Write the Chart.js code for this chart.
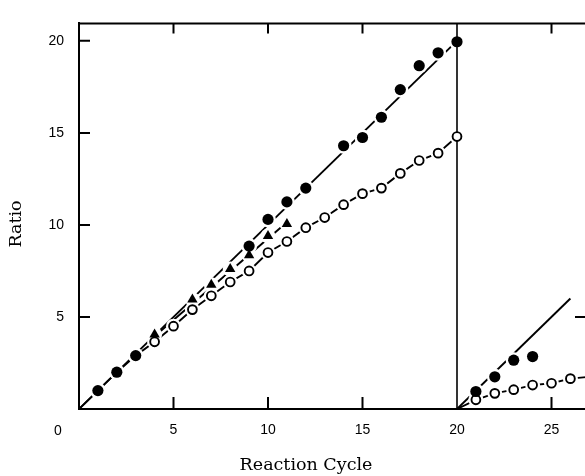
<!DOCTYPE html>
<html>
<head>
<meta charset="utf-8">
<script src="https://cdn.jsdelivr.net/npm/chart.js@4.4.1/dist/chart.umd.min.js"></script>
<style>
  html, body { margin: 0; padding: 0; background: #fff; overflow: hidden; }
  canvas { display: block; }
</style>
</head>
<body>
<canvas id="mycanvas" width="600" height="476"></canvas>
<script>
// first run, cycles 0-20
var filledX = [1, 2, 3, 9, 10, 11, 12, 14, 15, 16, 17, 18, 19, 20];
var filledY = [1.0, 2.0, 2.9, 8.85, 10.3, 11.25, 12.0, 14.3, 14.75, 15.85, 17.35, 18.65, 19.35, 19.95];
var openX = [4, 5, 6, 7, 8, 9, 10, 11, 12, 13, 14, 15, 16, 17, 18, 19, 20];
var openY = [3.65, 4.5, 5.4, 6.15, 6.9, 7.5, 8.5, 9.1, 9.85, 10.4, 11.1, 11.7, 12.0, 12.8, 13.5, 13.9, 14.8];
var triX = [4, 6, 7, 8, 9, 10, 11];
var triY = [4.05, 5.95, 6.75, 7.6, 8.35, 9.4, 10.05];

// second run, cycles 20+
var filled2X = [21, 22, 23, 24];
var filled2Y = [0.95, 1.75, 2.65, 2.85];
var open2X = [21, 22, 23, 24, 25, 26];
var open2Y = [0.5, 0.85, 1.05, 1.3, 1.4, 1.65];

// drawn lines
var fitAX = [0, 20], fitAY = [0, 20];
var fitBX = [20, 26], fitBY = [0, 6];
var triFitX = [4, 11], triFitY = [3.95, 10.15];
var openLineX = [0, 1, 2, 3].concat(openX);
var openLineY = [0, 1.0, 2.0, 2.9].concat(openY);
var open2LineX = [20].concat(open2X, [27.5]);
var open2LineY = [0].concat(open2Y, [1.8]);
var splitX = [20, 20], splitY = [0, 21];

var xTicks = [0, 5, 10, 15, 20, 25];
var yTicks = [0, 5, 10, 15, 20];

function pts(xs, ys) {
  var out = [];
  for (var i in xs) out.push({x: xs[i], y: ys[i]});
  return out;
}

function line(xs, ys, w) {
  return {data: pts(xs, ys), showLine: true, pointRadius: 0, borderColor: '#000',
          borderWidth: w || 1.9, fill: false, tension: 0, order: 10};
}

function halo(xs, ys, r) {
  return {data: pts(xs, ys), showLine: false, pointRadius: r, pointStyle: 'circle',
          pointBackgroundColor: '#fff', pointBorderWidth: 0, pointBorderColor: '#fff', order: 5};
}

var filledStyle = {showLine: false, pointRadius: 5.6, pointStyle: 'circle',
  pointBackgroundColor: '#000', pointBorderColor: '#000', pointBorderWidth: 0, order: 1};
var openStyle = {showLine: false, pointRadius: 4.4, pointStyle: 'circle',
  pointBackgroundColor: '#fff', pointBorderColor: '#000', pointBorderWidth: 1.9, order: 1};
var triStyle = {showLine: false, pointRadius: 6, pointStyle: 'triangle',
  pointBackgroundColor: '#000', pointBorderColor: '#000', pointBorderWidth: 0, order: 1};

var split = line(splitX, splitY, 1.6);
split.order = 3;

var datasets = [
  line(fitAX, fitAY), line(fitBX, fitBY), line(triFitX, triFitY),
  line(openLineX, openLineY), line(open2LineX, open2LineY),
  halo(filledX, filledY, 8), halo(filled2X, filled2Y, 8),
  halo(openX, openY, 7.5), halo(open2X, open2Y, 7.5), halo(triX, triY, 7.5),
  split,
  Object.assign({data: pts(filledX, filledY)}, filledStyle),
  Object.assign({data: pts(filled2X, filled2Y)}, filledStyle),
  Object.assign({data: pts(openX, openY)}, openStyle),
  Object.assign({data: pts(open2X, open2Y)}, openStyle),
  Object.assign({data: pts(triX, triY)}, triStyle)
];

var tickFont = '14px "Liberation Sans", Arial, sans-serif';
var titleFont = '17.5px "DejaVu Serif", serif';

// inward tick marks, top frame, titles and the shared 0 at the corner
var frame = {
  id: 'frame',
  afterDraw: function(chart) {
    var ctx = chart.ctx, a = chart.chartArea;
    var xs = chart.scales.x, ys = chart.scales.y;
    ctx.save();
    ctx.strokeStyle = '#000';
    ctx.lineWidth = 2;
    ctx.beginPath();
    ctx.moveTo(a.left - 1, a.top); ctx.lineTo(a.right, a.top);
    ctx.moveTo(a.right, a.top); ctx.lineTo(a.right, a.bottom);
    [5, 10, 15, 25].forEach(function(v) {
      var px = xs.getPixelForValue(v);
      ctx.moveTo(px, a.bottom); ctx.lineTo(px, a.bottom - 12);
      ctx.moveTo(px, a.top); ctx.lineTo(px, a.top + 10);
    });
    [5, 10, 15, 20].forEach(function(v) {
      var py = ys.getPixelForValue(v);
      ctx.moveTo(a.left, py); ctx.lineTo(a.left + 11, py);
    });
    var p5 = ys.getPixelForValue(5);
    ctx.moveTo(a.right, p5); ctx.lineTo(a.right - 11, p5);
    ctx.stroke();

    ctx.fillStyle = '#000';
    ctx.font = tickFont;
    ctx.textAlign = 'center';
    ctx.textBaseline = 'middle';
    ctx.fillText('0', xs.getPixelForValue(0) - 21, 431);

    ctx.font = titleFont;
    ctx.fillText('Reaction Cycle', 306, 465);
    ctx.translate(16.5, 224);
    ctx.rotate(-Math.PI / 2);
    ctx.fillText('Ratio', 0, 0);
    ctx.restore();
  }
};

var ctx = document.getElementById('mycanvas');
var chart = new Chart(ctx, {
  type: 'scatter',
  data: {datasets: datasets},
  plugins: [frame],
  options: {
    responsive: false,
    animation: false,
    devicePixelRatio: 1,
    layout: {padding: {left: 0, right: 14, top: 11, bottom: 0}},
    plugins: {legend: {display: false}, tooltip: {enabled: false}},
    scales: {
      x: {
        type: 'linear', min: 0, max: 507 / 18.9,
        afterFit: function(s) { s.height = 67; },
        afterBuildTicks: function(s) { s.ticks = xTicks.map(function(v) { return {value: v}; }); },
        grid: {display: false, drawTicks: false},
        border: {display: true, color: '#000', width: 2},
        ticks: {
          padding: 13, color: '#000', maxRotation: 0,
          font: {family: '"Liberation Sans", Arial, sans-serif', size: 14},
          callback: function(v) { return v === 0 ? '' : v; }
        }
      },
      y: {
        type: 'linear', min: 0, max: 398 / 19,
        afterFit: function(s) { s.width = 79; },
        afterBuildTicks: function(s) { s.ticks = yTicks.map(function(v) { return {value: v}; }); },
        grid: {display: false, drawTicks: false},
        border: {display: true, color: '#000', width: 2},
        ticks: {
          padding: 15, color: '#000',
          font: {family: '"Liberation Sans", Arial, sans-serif', size: 14},
          callback: function(v) { return v === 0 ? '' : v; }
        }
      }
    }
  }
});
</script>
</body>
</html>
